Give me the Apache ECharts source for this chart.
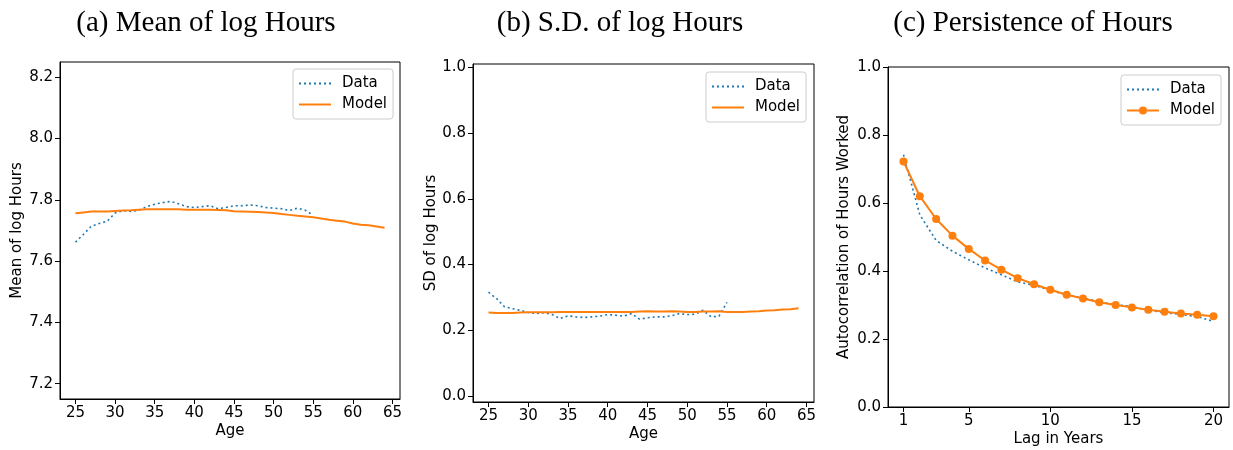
<!DOCTYPE html>
<html>
<head>
<meta charset="utf-8">
<script src="https://cdn.jsdelivr.net/npm/echarts@6/dist/echarts.min.js"></script>
<style>
  html, body { margin: 0; padding: 0; background: #fff; }
  #chart { width: 1233px; height: 450px; }
</style>
</head>
<body>
<div id="chart"></div>
<script>
// panel (a) + (b): ages
const agesData = [25, 26, 27, 28, 29, 30, 31, 32, 33, 34, 35, 36, 37, 38, 39, 40,
  41, 42, 43, 44, 45, 46, 47, 48, 49, 50, 51, 52, 53, 54, 55];
const agesModel = [25, 26, 27, 28, 29, 30, 31, 32, 33, 34, 35, 36, 37, 38, 39, 40,
  41, 42, 43, 44, 45, 46, 47, 48, 49, 50, 51, 52, 53, 54, 55, 56, 57, 58, 59, 60,
  61, 62, 63, 64];

const meanData = [7.662, 7.687, 7.714, 7.723, 7.730, 7.757, 7.765, 7.762, 7.766, 7.778,
  7.786, 7.791, 7.795, 7.787, 7.778, 7.775, 7.778, 7.781, 7.771, 7.775, 7.781, 7.781,
  7.783, 7.781, 7.775, 7.773, 7.771, 7.765, 7.773, 7.766, 7.750];
const meanModel = [7.756, 7.759, 7.762, 7.762, 7.762, 7.764, 7.765, 7.766, 7.768, 7.769,
  7.769, 7.769, 7.769, 7.769, 7.768, 7.768, 7.768, 7.768, 7.767, 7.766, 7.763, 7.762,
  7.761, 7.760, 7.759, 7.757, 7.754, 7.751, 7.748, 7.746, 7.743, 7.739, 7.735, 7.732,
  7.729, 7.723, 7.719, 7.717, 7.713, 7.709];

const sdData = [0.316, 0.297, 0.272, 0.266, 0.261, 0.254, 0.251, 0.254, 0.248, 0.236,
  0.244, 0.241, 0.239, 0.241, 0.243, 0.248, 0.246, 0.243, 0.251, 0.234, 0.238, 0.241,
  0.241, 0.244, 0.251, 0.248, 0.249, 0.261, 0.241, 0.243, 0.285];
const sdModel = [0.254, 0.253, 0.253, 0.253, 0.254, 0.255, 0.255, 0.255, 0.255, 0.256,
  0.256, 0.256, 0.256, 0.256, 0.256, 0.256, 0.256, 0.256, 0.256, 0.257, 0.258, 0.257,
  0.257, 0.258, 0.257, 0.256, 0.256, 0.257, 0.257, 0.258, 0.256, 0.256, 0.256, 0.257,
  0.258, 0.260, 0.261, 0.263, 0.264, 0.267];

// panel (c): autocorrelation by lag
const lags = [1, 2, 3, 4, 5, 6, 7, 8, 9, 10, 11, 12, 13, 14, 15, 16, 17, 18, 19, 20];
const acData = [0.742, 0.565, 0.490, 0.458, 0.433, 0.409, 0.389, 0.368, 0.358, 0.343,
  0.330, 0.321, 0.309, 0.301, 0.296, 0.284, 0.278, 0.272, 0.266, 0.252];
const acModel = [0.722, 0.620, 0.553, 0.504, 0.465, 0.431, 0.404, 0.379, 0.361, 0.345,
  0.330, 0.319, 0.308, 0.300, 0.293, 0.286, 0.280, 0.275, 0.271, 0.267];

// tick labels
const ageTicks = [25, 30, 35, 40, 45, 50, 55, 60, 65];
const meanTicks = [7.2, 7.4, 7.6, 7.8, 8.0, 8.2];
const unitTicks = [0, 0.2, 0.4, 0.6, 0.8, 1.0];
const lagTicks = [1, 5, 10, 15, 20];

const titles = ["(a) Mean of log Hours", "(b) S.D. of log Hours", "(c) Persistence of Hours"];

const blue = "#1f77b4";
const orange = "#ff7f0e";
const font = "DejaVu Sans";
const fs = 15;

const pairs = (xs, ys) => xs.map((x, i) => [x, ys[i]]);

function xAx(idx, min, max, ticks, name) {
  return {
    type: "value", gridIndex: idx, min: min, max: max,
    name: name, nameLocation: "middle", nameGap: 25, nameMoveOverlap: false,
    nameTextStyle: { color: "#000", fontSize: fs, fontFamily: font },
    splitLine: { show: false },
    axisLine: { show: true, onZero: false, lineStyle: { color: "#000", width: 1 } },
    axisTick: { show: true, length: 5, customValues: ticks, lineStyle: { color: "#000" } },
    axisLabel: { customValues: ticks, margin: 7, color: "#000", fontSize: fs, fontFamily: font },
  };
}

function yAx(idx, min, max, ticks, name, gap) {
  return {
    type: "value", gridIndex: idx, min: min, max: max,
    name: name, nameLocation: "middle", nameGap: gap, nameMoveOverlap: false,
    nameTextStyle: { color: "#000", fontSize: fs, fontFamily: font },
    splitLine: { show: false },
    axisLine: { show: true, onZero: false, lineStyle: { color: "#000", width: 1 } },
    axisTick: { show: true, length: 5, customValues: ticks, lineStyle: { color: "#000" } },
    axisLabel: {
      customValues: ticks, margin: 7, color: "#000", fontSize: fs, fontFamily: font,
      formatter: (v) => v.toFixed(1),
    },
  };
}

// a line-only legend entry hides the symbol the line series adds by default
const lineOnly = (name) => ({ name: name, itemStyle: { opacity: 0 } });

function legendAt(left, top, items) {
  return {
    left: left, top: top, orient: "vertical",
    data: items,
    itemWidth: 32, itemHeight: 10, itemGap: 6,
    padding: [7, 6, 7, 5],
    borderColor: "#cccccc", borderWidth: 1, borderRadius: 3,
    backgroundColor: "#fff",
    formatter: (n) => n.split(" ")[0],
    textStyle: { color: "#000", fontSize: fs, fontFamily: font, padding: [0, 0, 0, 6] },
    selectedMode: false,
  };
}

function dataSeries(name, idx, pts) {
  return {
    name: name, type: "line", xAxisIndex: idx, yAxisIndex: idx,
    data: pts, symbol: "none", animation: false,
    lineStyle: { color: blue, width: 1.6, type: [2, 3] },
    itemStyle: { color: blue },
  };
}

function modelSeries(name, idx, pts, withMarker) {
  return {
    name: name, type: "line", xAxisIndex: idx, yAxisIndex: idx,
    data: pts, symbol: withMarker ? "circle" : "none", symbolSize: 8,
    showSymbol: withMarker, animation: false,
    lineStyle: { color: orange, width: 2 },
    itemStyle: { color: orange },
  };
}

const chart = echarts.init(document.getElementById("chart"), null, { renderer: "canvas" });

chart.setOption({
  backgroundColor: "#fff",
  animation: false,
  graphic: titles.map((t, i) => ({
    type: "text",
    x: [206, 620, 1033][i], y: 23,
    style: {
      text: t, fill: "#000", font: '29px "Liberation Serif", "Times New Roman", serif',
      textAlign: "center", textVerticalAlign: "middle",
    },
  })),
  grid: [
    { left: 60, top: 62, width: 340, height: 337, show: true, borderColor: "#000", borderWidth: 1, outerBoundsMode: "none" },
    { left: 473, top: 64, width: 341, height: 338, show: true, borderColor: "#000", borderWidth: 1, outerBoundsMode: "none" },
    { left: 888, top: 67, width: 341, height: 340, show: true, borderColor: "#000", borderWidth: 1, outerBoundsMode: "none" },
  ],
  xAxis: [
    xAx(0, 23.05, 65.95, ageTicks, "Age"),
    xAx(1, 23.05, 65.95, ageTicks, "Age"),
    xAx(2, 0.05, 20.95, lagTicks, "Lag in Years"),
  ],
  yAxis: [
    yAx(0, 7.15, 8.25, meanTicks, "Mean of log Hours", 35),
    yAx(1, -0.018, 1.01, unitTicks, "SD of log Hours", 34),
    yAx(2, 0, 1, unitTicks, "Autocorrelation of Hours Worked", 36),
  ],
  legend: [
    legendAt(293, 69, [lineOnly("Data a"), lineOnly("Model a")]),
    legendAt(706, 72, [lineOnly("Data b"), lineOnly("Model b")]),
    legendAt(1121, 75, [lineOnly("Data c"), "Model c"]),
  ],
  series: [
    dataSeries("Data a", 0, pairs(agesData, meanData)),
    modelSeries("Model a", 0, pairs(agesModel, meanModel), false),
    dataSeries("Data b", 1, pairs(agesData, sdData)),
    modelSeries("Model b", 1, pairs(agesModel, sdModel), false),
    dataSeries("Data c", 2, pairs(lags, acData)),
    modelSeries("Model c", 2, pairs(lags, acModel), true),
  ],
});
</script>
</body>
</html>
